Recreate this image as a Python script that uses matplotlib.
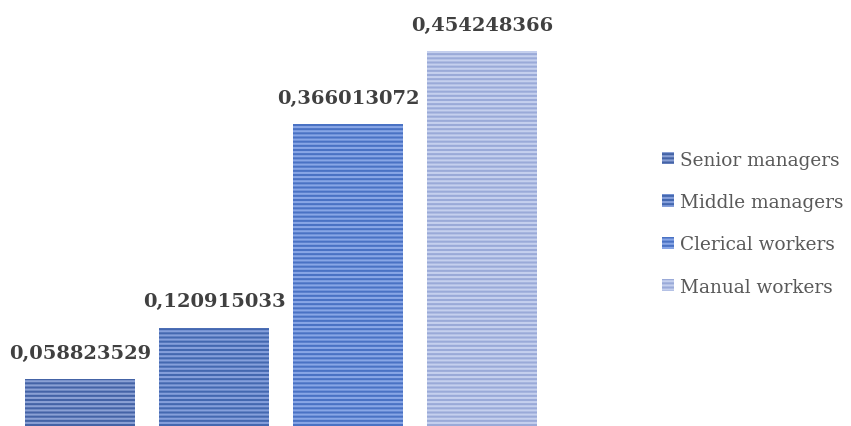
import matplotlib.pyplot as plt

categories = ['Senior managers', 'Middle managers', 'Clerical workers', 'Manual workers']
values = [0.058823529, 0.120915033, 0.366013072, 0.454248366]
labels = ['0,058823529', '0,120915033', '0,366013072', '0,454248366']

face_colors = ['#4463a6', '#4468b0', '#4a72c4', '#9aaad8']
stripe_colors = ['#8aa0d4', '#859fdb', '#88a6e6', '#c5d0ee']

plt.rcParams['hatch.linewidth'] = 1.5

fig = plt.figure(figsize=(8.51, 4.27), dpi=100)
ax = fig.add_axes([0, 0, 560 / 851, 1])

for i, (cat, val) in enumerate(zip(categories, values)):
    ax.bar(i, val, width=0.82, color=face_colors[i], edgecolor=stripe_colors[i],
           hatch='----', linewidth=0, label=cat)
    ax.annotate(labels[i], (i, val), xytext=(0, 12.5), textcoords='offset points',
                ha='center', va='bottom', fontsize=14, fontweight='bold',
                family='DejaVu Serif', color='#404040')

ax.set_xlim(-80 / 134, 480 / 134)
ax.set_ylim(0.0024, 0.517)
ax.axis('off')

fig.legend(loc='center left', bbox_to_anchor=(0.778, 0.475), frameon=False,
           prop={'family': 'DejaVu Serif', 'size': 13.3}, labelcolor='#595959',
           handlelength=0.65, handleheight=0.65, handletextpad=0.3,
           labelspacing=1.32, borderpad=0, borderaxespad=0)

fig.savefig('out.png', dpi=100)
